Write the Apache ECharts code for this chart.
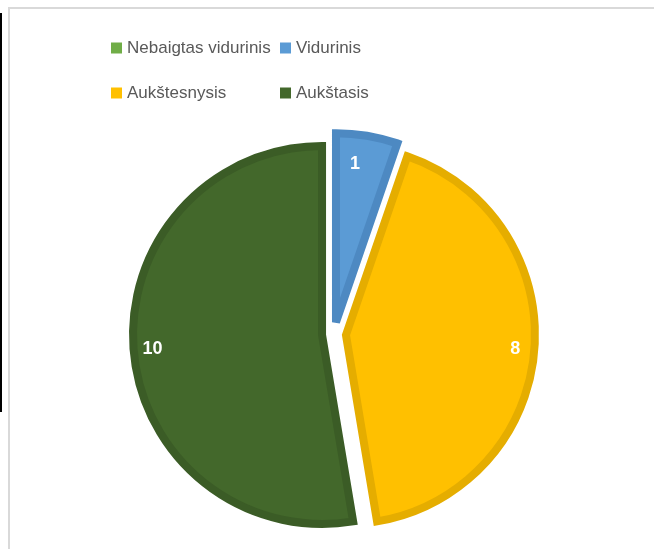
<!DOCTYPE html>
<html>
<head>
<meta charset="utf-8">
<script src="https://cdn.jsdelivr.net/npm/echarts@6/dist/echarts.min.js"></script>
<style>
  html, body { margin: 0; padding: 0; background: #fff; }
  #chart { width: 654px; height: 549px; }
</style>
</head>
<body>
<div id="chart"></div>
<script>
// data
const categories = ['Nebaigtas vidurinis', 'Vidurinis', 'Aukštesnysis', 'Aukštasis']
const values = [0, 1, 8, 10]
const fillColors = ['#70ad47', '#5b9bd5', '#ffc000', '#43682b']
const borderColors = ['#63993f', '#4d89c2', '#e5ad00', '#3b5c26']

const chart = echarts.init(document.getElementById('chart'))

// 扇形データ
const pieData = categories.map((name, i) => ({
  name: name,
  value: values[i],
  selected: values[i] > 0,
  itemStyle: {
    color: fillColors[i],
    borderColor: borderColors[i],
    borderWidth: values[i] > 0 ? 8 : 0
  }
}))

// ラベル用 (透明リング)
const labelData = categories.map((name, i) => ({
  name: name,
  value: values[i],
  selected: values[i] > 0
}))

const legendText = {
  color: '#595959',
  fontSize: 17,
  fontFamily: 'Liberation Sans',
  lineHeight: 20
}

const option = {
  animation: false,
  graphic: [
    { type: 'rect', shape: { x: 9, y: 8, width: 700, height: 600 }, style: { fill: 'none', stroke: '#d9d9d9', lineWidth: 2 }, silent: true },
    { type: 'rect', shape: { x: 0, y: 13, width: 2, height: 399 }, style: { fill: '#000' }, silent: true }
  ],
  legend: [
    {
      orient: 'vertical',
      left: 106,
      top: 33,
      itemWidth: 11,
      itemHeight: 11,
      itemGap: 25,
      icon: 'rect',
      itemStyle: { borderWidth: 0 },
      data: [categories[0], categories[2]],
      textStyle: legendText
    },
    {
      orient: 'vertical',
      left: 275,
      top: 33,
      itemWidth: 11,
      itemHeight: 11,
      itemGap: 25,
      icon: 'rect',
      itemStyle: { borderWidth: 0 },
      data: [categories[1], categories[3]],
      textStyle: legendText
    }
  ],
  series: [
    {
      type: 'pie',
      center: [334, 334],
      radius: [0, 189],
      startAngle: 90,
      selectedMode: 'multiple',
      selectedOffset: 12,
      silent: true,
      label: { show: false },
      labelLine: { show: false },
      itemStyle: { borderJoin: 'miter', borderMiterLimit: 2 },
      data: pieData
    },
    {
      type: 'pie',
      center: [334, 334],
      radius: [145, 189],
      startAngle: 90,
      selectedMode: 'multiple',
      selectedOffset: 12,
      silent: true,
      itemStyle: { color: 'transparent', borderWidth: 0 },
      label: {
        show: true,
        position: 'inside',
        color: '#fff',
        fontSize: 18,
        fontWeight: 'bold',
        fontFamily: 'Liberation Sans',
        formatter: (p) => (p.value > 0 ? String(p.value) : '')
      },
      // 細い扇形のラベルは内側へ寄せる
      labelLayout: (params) => (params.dataIndex === 1 ? { dx: -9, dy: 10 } : {}),
      labelLine: { show: false },
      data: labelData
    }
  ]
}

chart.setOption(option)
</script>
</body>
</html>
